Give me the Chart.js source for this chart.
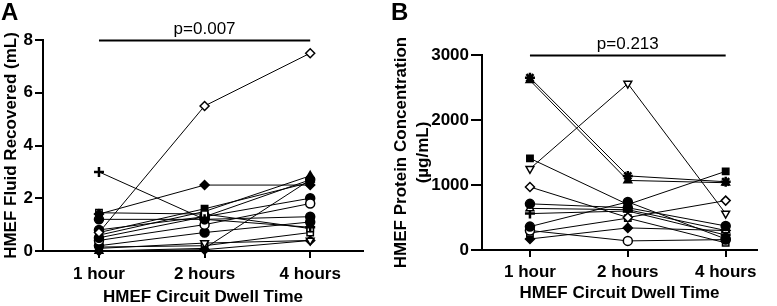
<!DOCTYPE html>
<html>
<head>
<meta charset="utf-8">
<script src="https://cdn.jsdelivr.net/npm/chart.js@4"></script>
<style>
  html, body { margin: 0; padding: 0; background: #fff; }
  #wrap { position: relative; width: 777px; height: 306px; }
  canvas { position: absolute; top: 0; }
  #fluidChart { left: 0; }
  #proteinChart { left: 390px; }
</style>
</head>
<body>
<div id="wrap">
  <canvas id="fluidChart" width="390" height="306"></canvas>
  <canvas id="proteinChart" width="387" height="306"></canvas>
</div>
<script>
// time points on the x axis
const timeLabels = ['1 hour', '2 hours', '4 hours'];

// Panel A - fluid recovered (mL), one value per subject at each time point
const fluid1h = [0.7, 3.0, 1.4, 1.45, 1.2, 0.6, 0.5, 0.7, 0.4, 0.8, 0.2, 0.1, 0.0, 0.15, 0.0];
const fluid2h = [5.5, 1.2, 2.5, 1.4, 1.2, 1.5, 1.3, 1.6, 1.0, 1.3, 0.7, 0.3, 0.1, 0.2, 0.05];
const fluid4h = [7.5, 0.9, 2.5, 0.85, 1.3, 2.85, 2.7, 2.6, 1.8, 2.0, 1.1, 0.4, 2.7, 0.7, 0.4];

// Panel B - protein concentration (ug/mL)
const protein1h = [2650, 2610, 1250, 1410, 970, 710, 640, 560, 360, 300, 260, 170];
const protein2h = [1140, 1070, 2560, 700, 500, 650, 620, 600, 740, 140, 490, 340];
const protein4h = [1050, 1035, 560, 1210, 760, 370, 300, 230, 170, 160, 110, 300];

// marker per subject: shape, '-o' = open marker
const fluidMarkers = ['rectRot-o', 'cross', 'rectRot', 'rect-o', 'circle', 'triangle', 'circle', 'rect',
    'circle-o', 'circle', 'circle', 'down-o', 'triangle', 'rect-o', 'rectRot'];
const proteinMarkers = ['star', 'triangle', 'down-o', 'rect', 'rectRot-o', 'circle', 'triangle-o', 'cross',
    'circle', 'circle-o', 'rect-o', 'rectRot'];

const FONT = "'Liberation Sans', Arial, sans-serif";
Chart.defaults.font.family = FONT;
Chart.defaults.color = '#000';

// significance bar, p value, panel letter and y title drawn on top
const bracketPlugin = {
    id: 'bracket',
    afterDraw(chart, args, opts) {
        const { ctx, scales: { x, y } } = chart;
        const yy = y.getPixelForValue(y.max) + 0.5;
        ctx.save();
        ctx.strokeStyle = '#000';
        ctx.lineWidth = 2;
        ctx.beginPath();
        ctx.moveTo(x.getPixelForValue(1), yy);
        ctx.lineTo(x.getPixelForValue(3), yy);
        ctx.stroke();
        ctx.fillStyle = '#000';
        ctx.font = '17px ' + FONT;
        ctx.textAlign = 'center';
        ctx.textBaseline = 'alphabetic';
        ctx.fillText(opts.pText, x.getPixelForValue(2), yy - 7);
        ctx.font = 'bold 24px ' + FONT;
        ctx.textAlign = 'left';
        ctx.fillText(opts.letter, opts.letterX, 20);

        // y axis title, one line per entry, centred on the plot height
        ctx.font = 'bold 17px ' + FONT;
        ctx.textAlign = 'center';
        ctx.textBaseline = 'middle';
        const cy = (y.top + y.bottom) / 2;
        opts.yTitle.forEach((line, i) => {
            ctx.save();
            ctx.translate(11 + i * 22, cy);
            ctx.rotate(-Math.PI / 2);
            ctx.fillText(line, 0, 0);
            ctx.restore();
        });
        ctx.restore();
    }
};

function makeDatasets(one, two, four, markers) {
    return one.map((v, i) => {
        const m = markers[i];
        const open = m.endsWith('-o');
        const shape = m.replace('-o', '');
        return {
            data: [{ x: 1, y: v }, { x: 2, y: two[i] }, { x: 3, y: four[i] }],
            borderColor: '#000',
            borderWidth: 1,
            pointStyle: shape === 'down' ? 'triangle' : shape,
            rotation: shape === 'down' ? 180 : 0,
            pointRadius: shape === 'cross' || shape === 'star' ? 5 : 4.5,
            pointBorderWidth: shape === 'cross' || shape === 'star' ? 2.5 : 1.5,
            pointBackgroundColor: open ? '#fff' : '#000',
            pointBorderColor: '#000',
            clip: false
        };
    });
}

function buildChart(id, datasets, cfg) {
    return new Chart(document.getElementById(id), {
        type: 'line',
        data: { datasets },
        plugins: [bracketPlugin],
        options: {
            responsive: false,
            animation: false,
            layout: { padding: { top: cfg.top, right: cfg.right, bottom: cfg.bottom, left: 0 } },
            plugins: {
                legend: { display: false },
                tooltip: { enabled: false },
                bracket: { pText: cfg.pText, letter: cfg.letter, letterX: 1, yTitle: cfg.yTitle }
            },
            scales: {
                x: {
                    type: 'linear',
                    min: cfg.xMin,
                    max: cfg.xMax,
                    afterBuildTicks: s => { s.ticks = timeLabels.map((_, i) => ({ value: i + 1 })); },
                    ticks: {
                        callback: v => timeLabels[v - 1],
                        font: { size: 17, weight: 'bold' },
                        padding: cfg.xTickPad,
                        maxRotation: 0,
                        autoSkip: false
                    },
                    grid: { drawOnChartArea: false, tickLength: 7, color: '#000', lineWidth: 2 },
                    border: { color: '#000', width: 2 },
                    title: {
                        display: true,
                        text: 'HMEF Circuit Dwell Time',
                        font: { size: 17, weight: 'bold', lineHeight: 1 },
                        padding: 0
                    },
                    afterFit: s => { s.height = cfg.xHeight; }
                },
                y: {
                    min: 0,
                    max: cfg.yMax,
                    ticks: {
                        stepSize: cfg.yStep,
                        callback: v => String(v),
                        font: { size: 17, weight: 'bold' },
                        padding: 2
                    },
                    grid: { drawOnChartArea: false, tickLength: cfg.yTickLen, color: '#000', lineWidth: 2 },
                    border: { color: '#000', width: 2 },
                    afterFit: s => { s.width = cfg.yWidth; }
                }
            }
        }
    });
}

buildChart('fluidChart', makeDatasets(fluid1h, fluid2h, fluid4h, fluidMarkers), {
    top: 40, right: 27, bottom: 0, xMin: 0.47, xMax: 3.5, xHeight: 55, xTickPad: 6,
    yMax: 8, yStep: 2, yWidth: 43, yTickLen: 8,
    yTitle: ['HMEF Fluid Recovered (mL)'], pText: 'p=0.007', letter: 'A'
});

buildChart('proteinChart', makeDatasets(protein1h, protein2h, protein4h, proteinMarkers), {
    top: 55, right: 20, bottom: 4.5, xMin: 0.51, xMax: 3.32, xHeight: 51.5, xTickPad: 5,
    yMax: 3000, yStep: 1000, yWidth: 92, yTickLen: 11,
    yTitle: ['HMEF Protein Concentration', '(µg/mL)'], pText: 'p=0.213', letter: 'B'
});
</script>
</body>
</html>
